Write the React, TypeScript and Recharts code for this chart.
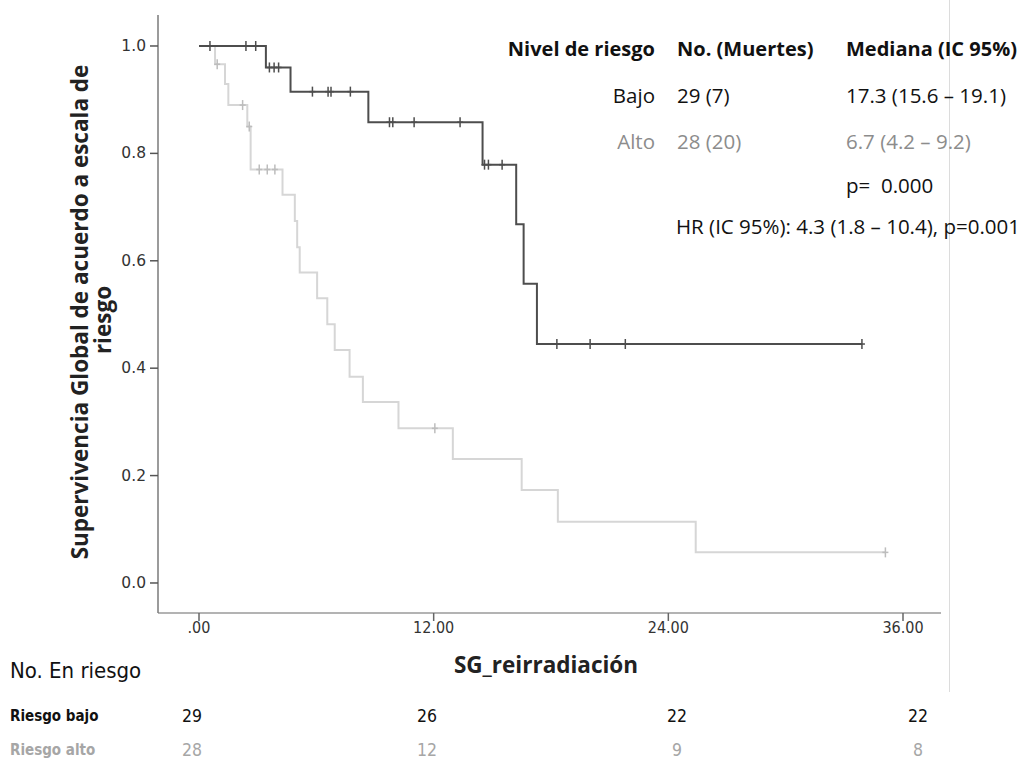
import React from 'react';
import { LineChart, Line, XAxis, YAxis } from 'recharts';

// ---- Data ----
const xTicks = [0, 12, 24, 36];
const xTickLabels = ['.00', '12.00', '24.00', '36.00'];
const yTicks = [0, 0.2, 0.4, 0.6, 0.8, 1.0];

// Riesgo bajo: step (event) times and survival after each step
const bajoTimes = [0, 3.42, 4.68, 8.66, 14.5, 16.22, 16.6, 17.28];
const bajoSurv = [1.0, 0.96, 0.915, 0.858, 0.779, 0.668, 0.557, 0.445];
const bajoCensor = [0.56, 2.4, 2.9, 3.6, 3.84, 4.07, 5.8, 6.6, 6.75, 7.74, 9.74, 9.91, 11.0, 13.35, 14.6, 14.8, 15.5, 18.3, 20.0, 21.8, 33.9];

// Riesgo alto
const altoTimes = [0, 0.82, 1.33, 1.5, 2.47, 2.64, 4.27, 4.9, 5.02, 5.15, 6.04, 6.56, 6.94, 7.7, 8.38, 10.2, 12.98, 16.5, 18.35, 25.4];
const altoSurv = [1.0, 0.966, 0.929, 0.89, 0.85, 0.77, 0.723, 0.674, 0.625, 0.578, 0.53, 0.482, 0.434, 0.384, 0.337, 0.288, 0.231, 0.173, 0.114, 0.057];
const altoCensor = [0.93, 2.23, 2.57, 3.08, 3.49, 3.88, 12.06, 35.1];

// Risk table
const riesgoBajo = [29, 26, 22, 22];
const riesgoAlto = [28, 12, 9, 8];

// Summary table
const tableHeader = ['Nivel de riesgo', 'No. (Muertes)', 'Mediana (IC 95%)'];
const rowBajo = ['Bajo', '29 (7)', '17.3 (15.6 \u2013 19.1)'];
const rowAlto = ['Alto', '28 (20)', '6.7 (4.2 \u2013 9.2)'];
const pText = 'p=  0.000';
const hrText = 'HR (IC 95%): 4.3 (1.8 \u2013 10.4), p=0.001';

type Pt = { t: number; s: number; c: boolean };

function buildSeries(times: number[], surv: number[], censor: number[]): Pt[] {
  const pts: Pt[] = times.map((t, i) => ({ t, s: surv[i], c: false }));
  censor.forEach((ct) => {
    let s = surv[0];
    for (let i = 0; i < times.length; i++) if (times[i] <= ct) s = surv[i];
    pts.push({ t: ct, s, c: true });
  });
  pts.sort((a, b) => a.t - b.t || (a.c ? 1 : -1));
  return pts;
}

const bajoData = buildSeries(bajoTimes, bajoSurv, bajoCensor);
const altoData = buildSeries(altoTimes, altoSurv, altoCensor);

const DARK = '#4d4d4d';
const LIGHT = '#d6d6d6';
const LIGHT_MARK = '#bdbdbd';
const GRAY_TEXT = '#8c8c8c';

const makeDot = (color: string) => (props: any) => {
  const { cx, cy, payload, index } = props;
  if (!payload || !payload.c || cx == null || cy == null) return <g key={`n${index}`} />;
  return (
    <g key={`c${index}`}>
      <line x1={cx} x2={cx} y1={cy - 5} y2={cy + 5} stroke={color} strokeWidth={1.5} />
      <line x1={cx - 3} x2={cx + 3} y1={cy} y2={cy} stroke={color} strokeWidth={1.5} />
    </g>
  );
};

const XTick = (props: any) => {
  const { x, y, payload } = props;
  const i = xTicks.indexOf(payload.value);
  return (
    <text x={x} y={y + 10} textAnchor="middle" fontSize={16} fill="#333"
      fontFamily='"DejaVu Sans Condensed", "DejaVu Sans", sans-serif'>
      {i >= 0 ? xTickLabels[i] : String(payload.value)}
    </text>
  );
};

const YTick = (props: any) => {
  const { x, y, payload } = props;
  return (
    <text x={x} y={y} textAnchor="end" dominantBaseline="central" fontSize={15.5} fill="#333"
      fontFamily='"DejaVu Sans", sans-serif'>
      {Number(payload.value).toFixed(1)}
    </text>
  );
};

const riskColX = [192, 427, 677, 918];
const SANS = '"Open Sans", "Noto Sans", sans-serif';
const NARROW = '"Liberation Sans Narrow", "DejaVu Sans Condensed", "Open Sans", sans-serif';

export default function App() {
  return (
    <div style={{ position: 'absolute', left: 0, top: 0, width: 1032, height: 760, background: '#fff', overflow: 'hidden' }}>
      <LineChart
        width={1032}
        height={760}
        margin={{ top: 15, right: 91, bottom: 107, left: 98 }}
      >
        <XAxis
          dataKey="t"
          type="number"
          domain={[-2.097, 37.943]}
          allowDataOverflow
          ticks={xTicks}
          height={40}
          tickSize={8}
          tickMargin={2}
          axisLine={{ stroke: '#9a9a9a', strokeWidth: 1.5 }}
          tickLine={{ stroke: '#666', strokeWidth: 1.5 }}
          tick={<XTick />}
        />
        <YAxis
          type="number"
          domain={[-0.0559, 1.0577]}
          allowDataOverflow
          ticks={yTicks}
          width={60}
          tickSize={8}
          tickMargin={4}
          axisLine={{ stroke: '#7a7a7a', strokeWidth: 1.5 }}
          tickLine={{ stroke: '#555', strokeWidth: 1.5 }}
          tick={<YTick />}
        />
        <Line
          data={altoData}
          dataKey="s"
          type="stepAfter"
          stroke={LIGHT}
          strokeWidth={2}
          dot={makeDot(LIGHT_MARK)}
          activeDot={false}
          isAnimationActive={false}
        />
        <Line
          data={bajoData}
          dataKey="s"
          type="stepAfter"
          stroke={DARK}
          strokeWidth={2}
          dot={makeDot(DARK)}
          activeDot={false}
          isAnimationActive={false}
        />
      </LineChart>

      <div style={{ position: 'absolute', left: 949, top: 0, width: 1, height: 692, background: '#dcdcdc' }} />

      <svg width={1032} height={760} style={{ position: 'absolute', left: 0, top: 0, pointerEvents: 'none' }}>
        {/* Y axis title */}
        <text
          transform="translate(79,312) rotate(-90)"
          textAnchor="middle"
          dominantBaseline="central"
          fontFamily={SANS}
          fontWeight={700}
          fontSize={22.5}
          fill="#222"
        >
          Supervivencia Global de acuerdo a escala de
        </text>
        <text
          transform="translate(102,320) rotate(-90)"
          textAnchor="middle"
          dominantBaseline="central"
          fontFamily={SANS}
          fontWeight={700}
          fontSize={22.5}
          fill="#222"
        >
          riesgo
        </text>

        {/* X axis title */}
        <text x={546} y={664} textAnchor="middle" dominantBaseline="central" fontFamily={SANS} fontWeight={700} fontSize={22.5} fill="#222">
          SG_reirradiación
        </text>

        {/* Summary table */}
        <g fontFamily={SANS}>
          <text x={655} y={48} textAnchor="end" dominantBaseline="central" fontWeight={700} fontSize={20} fill="#111">{tableHeader[0]}</text>
          <text x={677} y={48} dominantBaseline="central" fontWeight={700} fontSize={20} fill="#111">{tableHeader[1]}</text>
          <text x={846} y={48} dominantBaseline="central" fontWeight={700} fontSize={20} fill="#111">{tableHeader[2]}</text>

          <text x={655} y={95} textAnchor="end" dominantBaseline="central" fontSize={20.5} fill="#111">{rowBajo[0]}</text>
          <text x={677} y={95} dominantBaseline="central" fontSize={20.5} fill="#111">{rowBajo[1]}</text>
          <text x={846} y={95} dominantBaseline="central" fontSize={20.5} fill="#111">{rowBajo[2]}</text>

          <text x={655} y={141} textAnchor="end" dominantBaseline="central" fontSize={20.5} fill={GRAY_TEXT}>{rowAlto[0]}</text>
          <text x={677} y={141} dominantBaseline="central" fontSize={20.5} fill={GRAY_TEXT}>{rowAlto[1]}</text>
          <text x={846} y={141} dominantBaseline="central" fontSize={20.5} fill={GRAY_TEXT}>{rowAlto[2]}</text>

          <text x={846} y={185} dominantBaseline="central" fontSize={20.5} fill="#111" style={{ whiteSpace: 'pre' }}>{pText}</text>
          <text x={676} y={226} dominantBaseline="central" fontSize={20.5} fill="#111">{hrText}</text>
        </g>

        {/* Risk table */}
        <text x={10} y={670} dominantBaseline="central" fontFamily={NARROW} fontSize={22} fill="#111">No. En riesgo</text>
        <text x={10} y={716} dominantBaseline="central" fontFamily={NARROW} fontWeight={700} fontSize={15} fill="#111">Riesgo bajo</text>
        <text x={10} y={750} dominantBaseline="central" fontFamily={NARROW} fontWeight={700} fontSize={15} fill="#a6a6a6">Riesgo alto</text>
        {riesgoBajo.map((v, i) => (
          <text key={`b${i}`} x={riskColX[i]} y={716} textAnchor="middle" dominantBaseline="central" fontFamily={NARROW} fontSize={17.5} fill="#111">{v}</text>
        ))}
        {riesgoAlto.map((v, i) => (
          <text key={`a${i}`} x={riskColX[i]} y={750} textAnchor="middle" dominantBaseline="central" fontFamily={NARROW} fontSize={17.5} fill="#a6a6a6">{v}</text>
        ))}
      </svg>
    </div>
  );
}
